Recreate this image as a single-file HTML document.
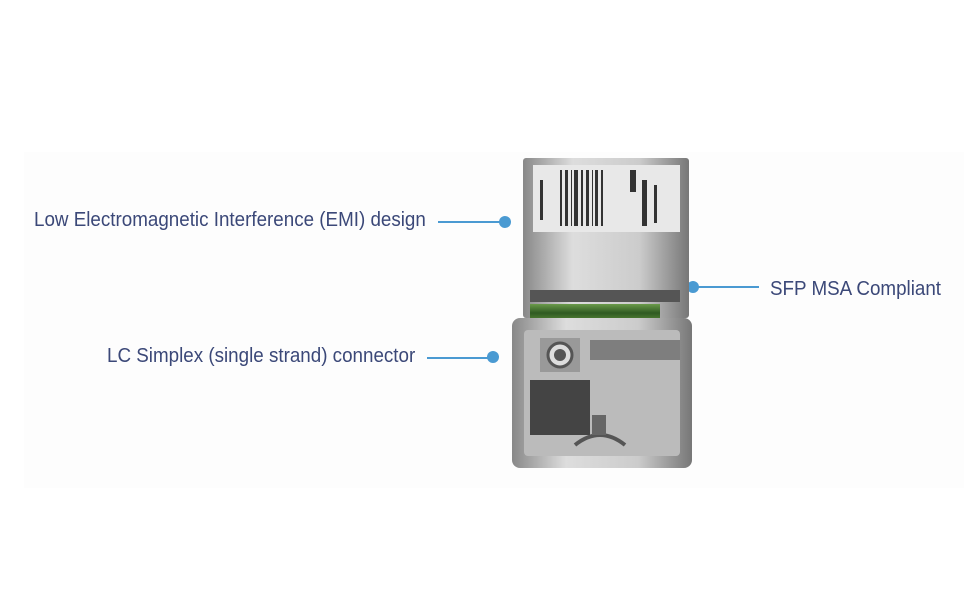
<!DOCTYPE html>
<html><head><meta charset="utf-8"><style>
html,body{margin:0;padding:0;background:#fff;}
body{width:970px;height:600px;position:relative;overflow:hidden;font-family:"Liberation Sans Narrow","Liberation Sans",sans-serif;}
.bg{position:absolute;left:24px;top:152px;width:940px;height:336px;background:#fdfdfd;}
.t{position:absolute;color:#3b4878;font-size:20px;white-space:nowrap;transform-origin:left top;}
.ln{position:absolute;height:2px;background:#4a9ad2;}
.dot{position:absolute;width:12px;height:12px;border-radius:50%;background:#4a9ad2;}
</style></head><body>
<div class="bg"></div>
<div class="t" style="left:34px;top:209px;transform:scaleX(0.94)">Low Electromagnetic Interference (EMI) design</div>
<div class="ln" style="left:438px;top:221px;width:64px"></div>
<div class="dot" style="left:499px;top:216px"></div>
<div class="t" style="left:107px;top:345px;transform:scaleX(0.94)">LC Simplex (single strand) connector</div>
<div class="ln" style="left:427px;top:357px;width:62px"></div>
<div class="dot" style="left:487px;top:351px"></div>
<div class="t" style="left:770px;top:278px;transform:scaleX(0.94)">SFP MSA Compliant</div>
<div class="ln" style="left:693px;top:286px;width:66px"></div>
<div class="dot" style="left:687px;top:281px"></div>
<svg style="position:absolute;left:0;top:0" width="970" height="600">
<defs>
<linearGradient id="m" x1="0" x2="1"><stop offset="0" stop-color="#888"/><stop offset=".3" stop-color="#ddd"/><stop offset=".7" stop-color="#ccc"/><stop offset="1" stop-color="#777"/></linearGradient>
<linearGradient id="g" x1="0" y1="0" x2="0" y2="1"><stop offset="0" stop-color="#6a9a4a"/><stop offset=".5" stop-color="#2f5a22"/><stop offset="1" stop-color="#5a8a3a"/></linearGradient>
</defs>
<rect x="523" y="158" width="166" height="160" fill="url(#m)" rx="3"/>
<rect x="533" y="165" width="147" height="67" fill="#e8e8e8"/>
<g fill="#333">
<rect x="560" y="170" width="2" height="56"/><rect x="565" y="170" width="3" height="56"/><rect x="571" y="170" width="1" height="56"/><rect x="574" y="170" width="4" height="56"/><rect x="581" y="170" width="2" height="56"/><rect x="586" y="170" width="3" height="56"/><rect x="592" y="170" width="1" height="56"/><rect x="595" y="170" width="3" height="56"/><rect x="601" y="170" width="2" height="56"/>
<rect x="630" y="170" width="6" height="22"/><rect x="642" y="180" width="5" height="46"/><rect x="654" y="185" width="3" height="38"/><rect x="540" y="180" width="3" height="40"/>
</g>
<rect x="530" y="290" width="150" height="12" fill="#555"/>
<rect x="530" y="304" width="130" height="18" fill="url(#g)"/>
<rect x="512" y="318" width="180" height="150" fill="url(#m)" rx="8"/>
<rect x="524" y="330" width="156" height="126" fill="#bbb" rx="4"/>
<rect x="530" y="380" width="60" height="55" fill="#444"/>
<rect x="540" y="338" width="40" height="34" fill="#999"/>
<circle cx="560" cy="355" r="12" fill="#ddd" stroke="#555" stroke-width="3"/>
<circle cx="560" cy="355" r="6" fill="#555"/>
<rect x="590" y="340" width="90" height="20" fill="#555" opacity=".6"/>
<path d="M575 445 Q600 425 625 445" stroke="#555" stroke-width="4" fill="none"/>
<rect x="592" y="415" width="14" height="20" fill="#666"/>
</svg>
</body></html>
